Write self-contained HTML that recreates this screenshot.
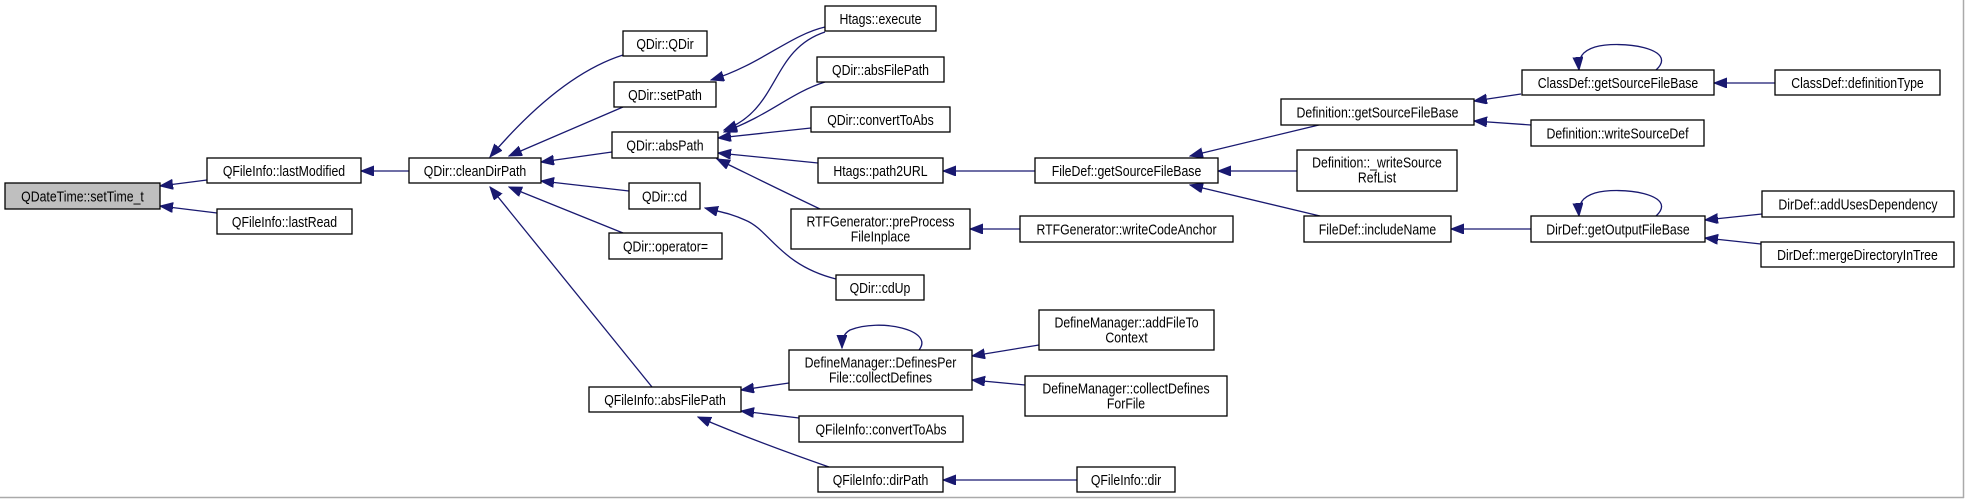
<!DOCTYPE html>
<html><head><meta charset="utf-8"><style>
html,body{margin:0;padding:0;background:#fff;}
svg{display:block;}
text{font-family:"Liberation Sans",sans-serif;font-size:15px;fill:#000;}
</style></head><body>
<svg width="1967" height="499" viewBox="0 0 1967 499" xmlns="http://www.w3.org/2000/svg">
<defs>
<marker id="a" markerUnits="userSpaceOnUse" markerWidth="14" markerHeight="12" refX="13" refY="5" orient="auto">
<path d="M0,0 L13,5 L0,10 Z" fill="#191970" stroke="#191970"/>
</marker>
</defs>
<rect x="0" y="0" width="1967" height="499" fill="#fff"/>
<line x1="0" y1="497.5" x2="1964" y2="497.5" stroke="#aaa" stroke-width="1.5"/>
<line x1="1963.5" y1="0" x2="1963.5" y2="498" stroke="#aaa" stroke-width="1.5"/>

<g fill="none" stroke="#191970" stroke-width="1.3" marker-end="url(#a)">
<path d="M207,180 L160,186"/>
<path d="M217,213 L160,206"/>
<path d="M409,171 L361,171"/>
<path d="M623,55 Q560,75 490,157"/>
<path d="M623,107 L509,156"/>
<path d="M612,152 L541,162"/>
<path d="M629,191 L541,181"/>
<path d="M623,233 L509,187"/>
<path d="M652,387 L490,187"/>
<path d="M825,27 C790,35 760,65 711,80"/>
<path d="M825,32 C770,50 780,110 724,130"/>
<path d="M825,82 C790,93 770,115 724,132"/>
<path d="M811,128 L718,138"/>
<path d="M818,163 L718,153"/>
<path d="M820,209 C780,190 760,180 717,159"/>
<path d="M836,279 C780,265 770,230 745,220 C730,213 720,212 705,208"/>
<path d="M789,383 L741,390"/>
<path d="M799,418 L741,411"/>
<path d="M829,467 C780,450 740,435 698,417"/>
<path d="M919,350 C935,330 880,318 850,330 C843,334 842,340 842,348"/>
<path d="M1035,171 L943,171"/>
<path d="M1020,229 L970,229"/>
<path d="M1039,345 L972,356"/>
<path d="M1025,385 L972,380"/>
<path d="M1077,480 L943,480"/>
<path d="M1323,124 L1190,156"/>
<path d="M1297,171 L1218,171"/>
<path d="M1320,216 L1190,185"/>
<path d="M1521,94 L1474,101"/>
<path d="M1531,125 L1474,121"/>
<path d="M1656,70 C1680,48 1620,40 1595,47 C1582,51 1578,58 1579,70"/>
<path d="M1775,83 L1714,83"/>
<path d="M1531,229 L1451,229"/>
<path d="M1656,216 C1680,194 1620,186 1595,193 C1582,197 1578,204 1579,216"/>
<path d="M1762,214 L1705,220"/>
<path d="M1761,244 L1705,238"/>
</g>

<g stroke="#000" stroke-width="1.3">
<rect x="5" y="183" width="155" height="26" fill="#bfbfbf"/>
<rect x="207" y="158" width="154" height="25" fill="#fff"/>
<rect x="217" y="209" width="135" height="25" fill="#fff"/>
<rect x="409" y="158" width="132" height="25" fill="#fff"/>
<rect x="623" y="31" width="84" height="25" fill="#fff"/>
<rect x="614" y="82" width="102" height="25" fill="#fff"/>
<rect x="612" y="132" width="106" height="26" fill="#fff"/>
<rect x="629" y="183" width="71" height="26" fill="#fff"/>
<rect x="609" y="233" width="113" height="26" fill="#fff"/>
<rect x="589" y="387" width="152" height="25" fill="#fff"/>
<rect x="825" y="6" width="111" height="25" fill="#fff"/>
<rect x="817" y="57" width="127" height="25" fill="#fff"/>
<rect x="811" y="107" width="139" height="25" fill="#fff"/>
<rect x="818" y="158" width="125" height="25" fill="#fff"/>
<rect x="791" y="209" width="179" height="40" fill="#fff"/>
<rect x="836" y="275" width="88" height="25" fill="#fff"/>
<rect x="789" y="350" width="183" height="40" fill="#fff"/>
<rect x="799" y="416" width="164" height="26" fill="#fff"/>
<rect x="818" y="467" width="125" height="25" fill="#fff"/>
<rect x="1035" y="158" width="183" height="25" fill="#fff"/>
<rect x="1020" y="216" width="213" height="26" fill="#fff"/>
<rect x="1039" y="310" width="175" height="40" fill="#fff"/>
<rect x="1025" y="376" width="202" height="40" fill="#fff"/>
<rect x="1077" y="467" width="98" height="25" fill="#fff"/>
<rect x="1281" y="99" width="193" height="26" fill="#fff"/>
<rect x="1297" y="150" width="160" height="41" fill="#fff"/>
<rect x="1304" y="216" width="147" height="26" fill="#fff"/>
<rect x="1522" y="70" width="192" height="25" fill="#fff"/>
<rect x="1531" y="120" width="173" height="26" fill="#fff"/>
<rect x="1531" y="216" width="174" height="26" fill="#fff"/>
<rect x="1775" y="70" width="165" height="25" fill="#fff"/>
<rect x="1762" y="191" width="192" height="26" fill="#fff"/>
<rect x="1761" y="242" width="193" height="25" fill="#fff"/>
</g>

<g text-anchor="middle">
<text transform="translate(82.5,201.5) scale(0.82,1)">QDateTime::setTime_t</text>
<text transform="translate(284,176) scale(0.82,1)">QFileInfo::lastModified</text>
<text transform="translate(284.5,227) scale(0.82,1)">QFileInfo::lastRead</text>
<text transform="translate(475,176) scale(0.82,1)">QDir::cleanDirPath</text>
<text transform="translate(665,49) scale(0.82,1)">QDir::QDir</text>
<text transform="translate(665,100) scale(0.82,1)">QDir::setPath</text>
<text transform="translate(665,150.5) scale(0.82,1)">QDir::absPath</text>
<text transform="translate(664.5,201.5) scale(0.82,1)">QDir::cd</text>
<text transform="translate(665.5,251.5) scale(0.82,1)">QDir::operator=</text>
<text transform="translate(665,405) scale(0.82,1)">QFileInfo::absFilePath</text>
<text transform="translate(880.5,24) scale(0.82,1)">Htags::execute</text>
<text transform="translate(880.5,75) scale(0.82,1)">QDir::absFilePath</text>
<text transform="translate(880.5,125) scale(0.82,1)">QDir::convertToAbs</text>
<text transform="translate(880.5,176) scale(0.82,1)">Htags::path2URL</text>
<text transform="translate(880.5,226.5) scale(0.82,1)">RTFGenerator::preProcess</text>
<text transform="translate(880.5,241.5) scale(0.82,1)">FileInplace</text>
<text transform="translate(880,293) scale(0.82,1)">QDir::cdUp</text>
<text transform="translate(880.5,367.5) scale(0.82,1)">DefineManager::DefinesPer</text>
<text transform="translate(880.5,382.5) scale(0.82,1)">File::collectDefines</text>
<text transform="translate(881,434.5) scale(0.82,1)">QFileInfo::convertToAbs</text>
<text transform="translate(880.5,485) scale(0.82,1)">QFileInfo::dirPath</text>
<text transform="translate(1126.5,176) scale(0.82,1)">FileDef::getSourceFileBase</text>
<text transform="translate(1126.5,234.5) scale(0.82,1)">RTFGenerator::writeCodeAnchor</text>
<text transform="translate(1126.5,327.5) scale(0.82,1)">DefineManager::addFileTo</text>
<text transform="translate(1126.5,342.5) scale(0.82,1)">Context</text>
<text transform="translate(1126,393.5) scale(0.82,1)">DefineManager::collectDefines</text>
<text transform="translate(1126,408.5) scale(0.82,1)">ForFile</text>
<text transform="translate(1126,485) scale(0.82,1)">QFileInfo::dir</text>
<text transform="translate(1377.5,117.5) scale(0.82,1)">Definition::getSourceFileBase</text>
<text transform="translate(1377,167.5) scale(0.82,1)">Definition::_writeSource</text>
<text transform="translate(1377,182.5) scale(0.82,1)">RefList</text>
<text transform="translate(1377.5,234.5) scale(0.82,1)">FileDef::includeName</text>
<text transform="translate(1618,88) scale(0.82,1)">ClassDef::getSourceFileBase</text>
<text transform="translate(1617.5,138.5) scale(0.82,1)">Definition::writeSourceDef</text>
<text transform="translate(1618,234.5) scale(0.82,1)">DirDef::getOutputFileBase</text>
<text transform="translate(1857.5,88) scale(0.82,1)">ClassDef::definitionType</text>
<text transform="translate(1858,209.5) scale(0.82,1)">DirDef::addUsesDependency</text>
<text transform="translate(1857.5,260) scale(0.82,1)">DirDef::mergeDirectoryInTree</text>
</g>
</svg>
</body></html>
